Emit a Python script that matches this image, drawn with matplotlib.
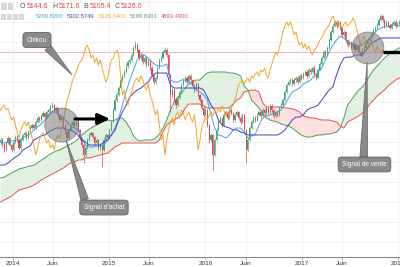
import numpy as np
import pandas as pd
import matplotlib
matplotlib.use("Agg")
import matplotlib.pyplot as plt
import matplotlib.dates as mdates
from matplotlib.patches import Ellipse, Rectangle

# ---------------- data (weekly candles) ----------------
opens = [4000, 4025, 3962, 3900, 3988, 4050, 3962, 3900, 4000, 4062,
         4025, 3925, 4025, 4088, 4112, 4050, 4125, 4175, 4212, 4175,
         4250, 4300, 4275, 4325, 4362, 4312, 4375, 4400, 4438, 4462,
         4400, 4425, 4338, 4275, 4312, 4212, 4125, 4050, 4150, 4212,
         4250, 4200, 4250, 4150, 4050, 3962, 3838, 3925, 4025, 4088,
         4112, 4062, 3988, 4025, 3925, 3962, 3900, 4025, 4088, 4050,
         4150, 4250, 4400, 4525, 4588, 4675, 4775, 4825, 4875, 4950,
         5000, 5025, 5088, 5175, 5212, 5150, 5050, 5088, 5000, 5050,
         4962, 5025, 4925, 4838, 4750, 4800, 4925, 5025, 5050, 5125,
         5150, 5088, 4838, 4588, 4650, 4525, 4462, 4550, 4625, 4712,
         4775, 4800, 4750, 4825, 4775, 4700, 4650, 4725, 4588, 4525,
         4425, 4338, 4400, 4212, 4025, 4088, 3838, 4025, 4150, 4250,
         4300, 4212, 4338, 4375, 4300, 4400, 4362, 4275, 4338, 4375,
         4300, 4250, 4338, 4150, 3900, 4025, 4175, 4250, 4300, 4275,
         4338, 4375, 4325, 4400, 4362, 4425, 4375, 4450, 4400, 4325,
         4375, 4338, 4425, 4462, 4525, 4625, 4712, 4750, 4775, 4725,
         4775, 4800, 4750, 4825, 4800, 4850, 4875, 4825, 4900, 4875,
         4925, 4838, 4800, 4900, 4975, 5050, 5125, 5088, 5175, 5275,
         5375, 5450, 5500, 5450, 5500, 5425, 5338, 5375, 5275, 5212,
         5250, 5175, 5225, 5150, 5200, 5125, 5088, 5150, 5175, 5225,
         5275, 5300, 5350, 5400, 5425, 5462, 5525, 5575, 5525, 5450,
         5500, 5462, 5425, 5475, 5500, 5450, 5475]

closes = [4025, 3962, 3900, 3988, 4050, 3962, 3900, 4000, 4062, 4025,
          3925, 4025, 4088, 4112, 4050, 4125, 4175, 4212, 4175, 4250,
          4300, 4275, 4325, 4362, 4312, 4375, 4400, 4438, 4462, 4400,
          4425, 4338, 4275, 4312, 4212, 4125, 4050, 4150, 4212, 4250,
          4200, 4250, 4150, 4050, 3962, 3838, 3925, 4025, 4088, 4112,
          4062, 3988, 4025, 3925, 3962, 3900, 4025, 4088, 4050, 4150,
          4250, 4400, 4525, 4588, 4675, 4775, 4825, 4875, 4950, 5000,
          5025, 5088, 5175, 5212, 5150, 5050, 5088, 5000, 5050, 4962,
          5025, 4925, 4838, 4750, 4800, 4925, 5025, 5050, 5125, 5150,
          5088, 4838, 4588, 4650, 4525, 4462, 4550, 4625, 4712, 4775,
          4800, 4750, 4825, 4775, 4700, 4650, 4725, 4588, 4525, 4425,
          4338, 4400, 4212, 4025, 4088, 3838, 4025, 4150, 4250, 4300,
          4212, 4338, 4375, 4300, 4400, 4362, 4275, 4338, 4375, 4300,
          4250, 4338, 4150, 3900, 4025, 4175, 4250, 4300, 4275, 4338,
          4375, 4325, 4400, 4362, 4425, 4375, 4450, 4400, 4325, 4375,
          4338, 4425, 4462, 4525, 4625, 4712, 4750, 4775, 4725, 4775,
          4800, 4750, 4825, 4800, 4850, 4875, 4825, 4900, 4875, 4925,
          4838, 4800, 4900, 4975, 5050, 5125, 5088, 5175, 5275, 5375,
          5450, 5500, 5450, 5500, 5425, 5338, 5375, 5275, 5212, 5250,
          5175, 5225, 5150, 5200, 5125, 5088, 5150, 5175, 5225, 5275,
          5300, 5350, 5400, 5425, 5462, 5525, 5575, 5525, 5450, 5500,
          5462, 5425, 5475, 5500, 5450, 5475, 5500, 5550, 5500, 5400,
          5300, 5212, 5275, 5325, 5225, 5150, 5200, 5275, 5175, 5125,
          5188, 5150, 5125, 5150, 5125]

highs = [4060, 4050, 3985, 4010, 4080, 4065, 3980, 4020, 4090, 4085,
         4040, 4045, 4110, 4140, 4130, 4150, 4200, 4240, 4230, 4270,
         4330, 4320, 4350, 4390, 4380, 4400, 4430, 4465, 4500, 4480,
         4455, 4440, 4355, 4340, 4325, 4230, 4140, 4170, 4240, 4280,
         4270, 4275, 4265, 4165, 4065, 3980, 3950, 4045, 4110, 4140,
         4130, 4080, 4050, 4040, 3990, 3980, 4045, 4110, 4105, 4170,
         4275, 4425, 4550, 4615, 4700, 4800, 4855, 4900, 4975, 5030,
         5055, 5115, 5205, 5260, 5240, 5165, 5120, 5105, 5080, 5070,
         5050, 5040, 4945, 4855, 4830, 4945, 5050, 5080, 5150, 5190,
         5170, 5100, 4850, 4690, 4670, 4545, 4575, 4650, 4740, 4800,
         4830, 4820, 4850, 4845, 4790, 4720, 4750, 4740, 4605, 4540,
         4445, 4425, 4415, 4230, 4115, 4100, 4045, 4170, 4275, 4330,
         4315, 4360, 4400, 4390, 4425, 4420, 4380, 4360, 4400, 4390,
         4320, 4360, 4355, 4165, 4045, 4195, 4270, 4325, 4320, 4360,
         4400, 4390, 4425, 4420, 4450, 4440, 4475, 4470, 4415, 4400,
         4390, 4450, 4490, 4550, 4650, 4740, 4780, 4805, 4795, 4800,
         4830, 4820, 4850, 4845, 4875, 4905, 4895, 4925, 4920, 4950,
         4945, 4855, 4925, 5000, 5075, 5150, 5145, 5200, 5300, 5400,
         5480, 5530, 5520, 5530, 5515, 5440, 5400, 5390, 5290, 5275,
         5265, 5250, 5240, 5225, 5215, 5140, 5175, 5200, 5250, 5300,
         5330, 5375, 5425, 5455, 5490, 5550, 5605, 5590, 5540, 5525,
         5515, 5480, 5500, 5530, 5520, 5500, 5525]

lows = [3975, 3940, 3870, 3885, 3970, 3945, 3875, 3890, 3985, 4000,
        3900, 3910, 4010, 4070, 4030, 4035, 4110, 4160, 4150, 4160,
        4235, 4250, 4260, 4310, 4290, 4300, 4360, 4385, 4420, 4380,
        4385, 4315, 4250, 4260, 4190, 4100, 4020, 4035, 4135, 4195,
        4180, 4185, 4130, 4025, 3935, 3738, 3815, 3910, 4010, 4070,
        4040, 3965, 3970, 3900, 3905, 3688, 3885, 4010, 4030, 4035,
        4135, 4235, 4385, 4505, 4570, 4660, 4755, 4805, 4860, 4930,
        4980, 5005, 5070, 5150, 5130, 5025, 5030, 4975, 4985, 4940,
        4945, 4900, 4810, 4720, 4730, 4785, 4910, 5005, 5035, 5110,
        5065, 4810, 4375, 4560, 4500, 4430, 4445, 4535, 4610, 4695,
        4755, 4730, 4735, 4755, 4680, 4625, 4635, 4560, 4500, 4400,
        4310, 4320, 4185, 3990, 4000, 3650, 3820, 4010, 4135, 4235,
        4190, 4200, 4320, 4280, 4285, 4340, 4250, 4260, 4320, 4280,
        4225, 4235, 4125, 3738, 3885, 4010, 4160, 4235, 4255, 4260,
        4320, 4305, 4310, 4340, 4345, 4355, 4360, 4380, 4300, 4310,
        4315, 4320, 4410, 4445, 4510, 4610, 4695, 4730, 4705, 4710,
        4755, 4730, 4735, 4780, 4785, 4830, 4805, 4810, 4855, 4860,
        4815, 4775, 4785, 4885, 4960, 5035, 5065, 5070, 5160, 5260,
        5360, 5435, 5430, 5435, 5400, 5315, 5320, 5250, 5190, 5195,
        5150, 5160, 5125, 5135, 5100, 5065, 5070, 5135, 5160, 5210,
        5255, 5285, 5335, 5380, 5410, 5445, 5510, 5505, 5425, 5435,
        5440, 5400, 5410, 5460, 5430, 5435, 5460]

# ---------------- Ichimoku lines (read every 2 weeks) ----------------
tenkan = [4000, 3988, 4000, 4012, 4025, 4025, 4050, 4075, 4100, 4150,
          4188, 4225, 4275, 4325, 4375, 4375, 4338, 4300, 4250, 4200,
          4175, 4150, 4050, 3962, 3938, 3938, 3950, 3950, 3962, 4025,
          4088, 4175, 4300, 4462, 4625, 4775, 4900, 5025, 5088, 5088,
          5050, 5000, 4962, 4950, 4950, 4975, 4775, 4750, 4750, 4775,
          4775, 4750, 4712, 4650, 4625, 4588, 4525, 4338, 4175, 4088,
          4075, 4050, 4088, 4150, 4175, 4175, 4125, 4050, 4075, 4100,
          4212, 4300, 4325, 4338, 4362, 4375, 4400, 4462, 4550, 4625,
          4650, 4675, 4725, 4750, 4775, 4825, 4875, 4925, 5025, 5125,
          5212, 5275, 5325, 5300, 5250, 5225, 5212, 5200, 5212, 5250,
          5300, 5350, 5400, 5425, 5438, 5450, 5462, 5462, 5450, 5438]

kijun = [3712, 3712, 3738, 3775, 3812, 3838, 3900, 3925, 3950, 4025,
         4050, 4075, 4088, 4125, 4150, 4175, 4175, 4175, 4150, 4150,
         4125, 4088, 4025, 4000, 3962, 3962, 3962, 3962, 4000, 4025,
         4088, 4150, 4275, 4375, 4462, 4562, 4612, 4650, 4675, 4712,
         4750, 4825, 4862, 4862, 4862, 4862, 4712, 4675, 4675, 4675,
         4675, 4675, 4675, 4675, 4675, 4650, 4562, 4462, 4400, 4275,
         4212, 4188, 4175, 4150, 4150, 4125, 4112, 4088, 4088, 4088,
         4088, 4088, 4088, 4088, 4088, 4088, 4112, 4150, 4212, 4275,
         4312, 4312, 4338, 4400, 4425, 4438, 4462, 4525, 4588, 4650,
         4688, 4838, 4962, 5050, 5062, 5062, 5088, 5088, 5088, 5150,
         5212, 5250, 5275, 5300, 5300, 5300, 5300, 5300, 5300, 5300]

senkou_a = [3550, 3562, 3588, 3612, 3638, 3662, 3675, 3688, 3700, 3712,
            3738, 3775, 3800, 3838, 3862, 3888, 3900, 3925, 3950, 3975,
            4000, 4038, 4088, 4125, 4162, 4188, 4212, 4238, 4262, 4275,
            4262, 4275, 4300, 4300, 4250, 4175, 4075, 4025, 4012, 4025,
            4025, 4025, 4050, 4100, 4175, 4275, 4400, 4500, 4562, 4612,
            4675, 4725, 4750, 4775, 4775, 4825, 4862, 4875, 4875, 4875,
            4875, 4875, 4862, 4862, 4850, 4825, 4700, 4650, 4525, 4475,
            4425, 4362, 4300, 4275, 4262, 4250, 4225, 4212, 4200, 4175,
            4138, 4100, 4075, 4062, 4062, 4075, 4088, 4088, 4100, 4100,
            4112, 4125, 4175, 4300, 4462, 4525, 4588, 4650, 4688, 4750,
            4825, 4900, 4950, 5000, 5050, 5088, 5125, 5150, 5175, 5188]

senkou_b = [3250, 3275, 3300, 3325, 3362, 3400, 3412, 3425, 3438, 3462,
            3488, 3525, 3550, 3575, 3600, 3625, 3650, 3675, 3712, 3738,
            3750, 3775, 3775, 3800, 3800, 3812, 3825, 3838, 3850, 3862,
            3900, 3938, 3962, 3988, 3988, 3988, 3988, 3988, 3988, 3988,
            3988, 3988, 3988, 4025, 4125, 4212, 4250, 4275, 4300, 4338,
            4425, 4475, 4475, 4475, 4475, 4450, 4425, 4425, 4425, 4425,
            4425, 4425, 4425, 4475, 4525, 4550, 4625, 4638, 4650, 4650,
            4625, 4488, 4438, 4438, 4438, 4438, 4438, 4425, 4425, 4412,
            4400, 4375, 4325, 4312, 4300, 4300, 4288, 4275, 4275, 4275,
            4262, 4250, 4200, 4175, 4250, 4275, 4300, 4325, 4362, 4400,
            4475, 4525, 4575, 4612, 4650, 4700, 4738, 4775, 4800, 4825]

tick_dates = ["2014-01-01", "2014-06-01", "2015-01-01", "2015-06-01", "2016-01-01",
              "2016-06-01", "2017-01-01", "2017-06-01", "2018-01-01"]
tick_labels = ["2014", "Juin", "2015", "Juin", "2016", "Juin", "2017", "Juin", "2018"]

ohlc_legend = [("O", "5144.6"), ("H", "5171.6"), ("B", "5105.4"), ("C", "5126.0")]
ind_legend = ["5200.8200", "5302.5749", "5126.0400", "5199.8301", "4893.4900"]

# annotation anchors (date, price)
buy_signal = ("2014-07-05", 4212)
sell_signal = ("2017-09-08", 5175)
buy_arrow = (("2014-08-24", 4288), ("2015-01-04", 4288))
sell_arrow = (("2017-11-04", 5125), ("2018-03-01", 5125))
chikou_note = (("2014-04-02", 5275), ("2014-08-13", 4838))
achat_note = (("2014-12-12", 3181), ("2014-07-21", 4025))
vente_note = (("2017-08-26", 3719), ("2017-09-05", 5000))

# ---------------- styles ----------------
UP = "#45a872"
DOWN = "#e4434f"
C_TENKAN = "#4a9fe6"
C_KIJUN = "#3f3fcf"
C_CHIKOU = "#f5a52e"
C_SA = "#4f9f55"
C_SB = "#e05050"
BOXC = "#8a8a8a"

plt.rcParams["font.family"] = ["Liberation Sans", "DejaVu Sans"]

dates = pd.date_range("2013-11-15", periods=len(closes), freq="7D")
cd = mdates.date2num(dates[:len(opens)])
line_x = mdates.date2num(pd.date_range("2013-11-15", periods=len(tenkan), freq="14D"))
chikou_x = mdates.date2num(dates - pd.Timedelta(weeks=26))

fig = plt.figure(figsize=(4, 2.67), dpi=100)
ax = fig.add_axes([0, 10 / 267, 1, 257 / 267])
ax.set_xlim(mdates.date2num(pd.Timestamp("2013-11-12 17:00")),
            mdates.date2num(pd.Timestamp("2018-01-07 19:00")))
ax.set_ylim(2562.5, 5775)

# grid
ax.set_yticks(np.arange(2750, 5751, 250))
ax.set_xticks(mdates.date2num(pd.to_datetime(tick_dates)))
ax.set_xticklabels(tick_labels)
ax.grid(True, color="#f0f0f0", lw=0.6, zorder=0)
ax.tick_params(axis="y", left=False, labelleft=False)
ax.tick_params(axis="x", length=2, width=0.5, color="#999999", pad=1, labelsize=4.6,
               labelcolor="#333333")
for s in ["top", "left", "right"]:
    ax.spines[s].set_visible(False)
ax.spines["bottom"].set_color("#8a8a8a")
ax.spines["bottom"].set_linewidth(0.8)

# last price line
ax.axhline(closes[-1], color="#f3b3b3", lw=0.7, zorder=1)

# cloud
sa = np.array(senkou_a, float)
sb = np.array(senkou_b, float)
ax.fill_between(line_x, sa, sb, where=sa >= sb, interpolate=True, color="#4caf50",
                alpha=0.17, lw=0, zorder=1)
ax.fill_between(line_x, sa, sb, where=sa < sb, interpolate=True, color="#f44336",
                alpha=0.17, lw=0, zorder=1)
ax.plot(line_x, sa, color=C_SA, lw=0.7, zorder=2)
ax.plot(line_x, sb, color=C_SB, lw=0.7, zorder=2)

# candles
o = np.array(opens, float)
c = np.array(closes[:len(opens)], float)
h = np.array(highs, float)
l = np.array(lows, float)
cols = np.where(c >= o, UP, DOWN)
ax.vlines(cd, l, h, colors=cols, lw=0.5, zorder=3)
ax.bar(cd, np.maximum(np.abs(c - o), 10), bottom=np.minimum(o, c), width=4.3,
       color=cols, lw=0, zorder=3)

# lines
ax.plot(line_x, tenkan, color=C_TENKAN, lw=0.7, zorder=4)
ax.plot(line_x, kijun, color=C_KIJUN, lw=0.7, zorder=4)
ax.plot(chikou_x, closes, color=C_CHIKOU, lw=0.7, zorder=4)

def dnum(d):
    return mdates.date2num(pd.Timestamp(d))

# callouts
def callout(text, note, relpos):
    (bx, by), (tx, ty) = note
    ax.annotate(text, xy=(dnum(tx), ty), xytext=(dnum(bx), by), ha="center", va="center",
                fontsize=4.7, color="white", zorder=6,
                bbox=dict(boxstyle="round,pad=0.6,rounding_size=0.5", fc=BOXC, ec="#606060", lw=0.6),
                arrowprops=dict(arrowstyle="wedge,tail_width=0.55,shrink_factor=0.5", fc=BOXC,
                                ec="#606060", lw=0.5, relpos=relpos, mutation_scale=10,
                                shrinkA=0, shrinkB=0))

callout("Chikou", chikou_note, (0.85, 0.0))
callout("Signal d'achat", achat_note, (0.06, 1.0))
callout("Signal de vente", vente_note, (0.48, 1.0))

# circles
for (d, p), r in [(buy_signal, 17), (sell_signal, 16)]:
    e = Ellipse((dnum(d), p), width=2 * r / 0.26366, height=2 * r * 12.5,
                fc="#7a7a7a", ec="#555555", alpha=0.55, lw=0.6, zorder=7)
    ax.add_patch(e)

# arrows
(a0, p0), (a1, p1) = buy_arrow
ax.annotate("", xy=(dnum(a1), p1), xytext=(dnum(a0), p0), zorder=8,
            arrowprops=dict(arrowstyle="-|>,head_length=0.7,head_width=0.32", color="black",
                            lw=2.2, mutation_scale=10, shrinkA=0, shrinkB=0))
(a0, p0), (a1, p1) = sell_arrow
ax.plot([dnum(a0), dnum(a1)], [p0, p1], color="black", lw=2.4, zorder=8, solid_capstyle="butt")

# legend (top-left)
def px(x, y):
    return x / 400, 1 - y / 267

for i in range(2):
    fig.add_artist(Rectangle(px(1 + 6.5 * i, 9.5), 5.5 / 400, 6 / 267, transform=fig.transFigure,
                             fc="#d8d8d8", ec="none"))
for i in range(4):
    fig.add_artist(Rectangle(px(1 + 6 * i, 19.5), 5.2 / 400, 6 / 267, transform=fig.transFigure,
                             fc="#d8d8d8", ec="none"))

label_x = [20.0, 52.8, 83.6, 114.8]
value_x = [26.6, 58.9, 89.3, 120.9]
for (lab, val), x0, x1 in zip(ohlc_legend, label_x, value_x):
    fig.text(*px(x0, 6.5), lab, fontsize=5.0, color="#555555", va="center", ha="left")
    fig.text(*px(x1, 6.5), val, fontsize=5.0, color="#d9434f", va="center", ha="left")

ind_cols = [C_TENKAN, C_KIJUN, C_CHIKOU, C_SA, C_SB]
for val, x0, col in zip(ind_legend, [35.5, 67, 99, 130, 161], ind_cols):
    fig.text(*px(x0, 16.5), val, fontsize=4.2, color=col, va="center", ha="left")

fig.savefig("out.png", dpi=100)
